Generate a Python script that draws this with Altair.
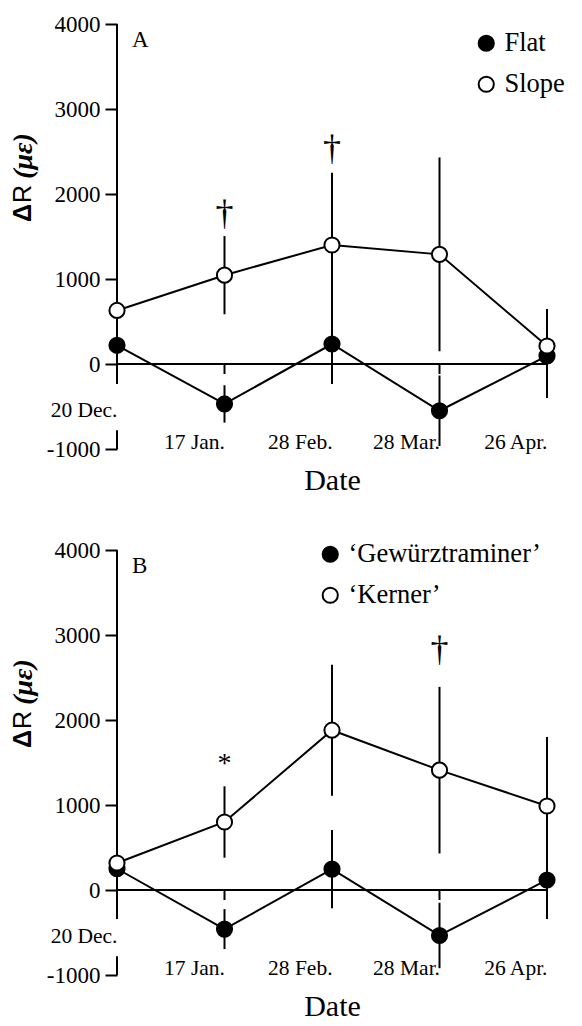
import altair as alt
import pandas as pd

# ---------------- data ----------------
dates = ["20 Dec.", "17 Jan.", "28 Feb.", "28 Mar.", "26 Apr."]

# Panel A
a_series = ["Flat", "Slope"]
a_flat = [220, -470, 235, -550, 95]
a_flat_se = [455, 220, 470, 415, 495]
a_slope = [630, 1045, 1400, 1290, 212]
a_slope_se = [300, 460, 850, 1140, 435]
a_mark_dates = ["17 Jan.", "28 Feb."]
a_mark_y = [1765, 2530]
a_mark_sym = ["\u2020", "\u2020"]

# Panel B
b_series = ["\u2018Gew\u00fcrztraminer\u2019", "\u2018Kerner\u2019"]
b_gew = [250, -460, 245, -535, 118]
b_gew_se = [300, 235, 460, 385, 460]
b_ker = [318, 800, 1880, 1410, 988]
b_ker_se = [660, 420, 770, 980, 812]
b_mark_dates = ["17 Jan.", "28 Mar."]
b_mark_y = [1480, 2824]
b_mark_sym = ["*", "\u2020"]

y_ticks = [-1000, 0, 1000, 2000, 3000, 4000]
y_domain = [-1000, 4000]
# y-axis line drawn in two pieces (broken where the first date label sits)
yaxis_lo = [0, -1000]
yaxis_hi = [4000, -780]

# ---------------- style ----------------
W, H = 430, 425
SERIF = "Liberation Serif"
SANS = "Liberation Sans"
UNITS_PER_PX = (y_domain[1] - y_domain[0]) / H
TICK_LEN = 10 * UNITS_PER_PX


def panel(letter, series, vals, ses, mdates, my, msym, legend_x, legend_y):
    rows = []
    for s, v, e in zip(series, vals, ses):
        for d, m, se in zip(dates, v, e):
            rows.append({"date": d, "series": s, "mean": m, "lo": m - se, "hi": m + se})
    df = pd.DataFrame(rows)

    xscale = alt.Scale(type="point", padding=0, domain=dates)
    xaxis = alt.Axis(
        title="Date", titleFont=SERIF, titleFontSize=30, titleFontWeight="normal",
        titleColor="black", titlePadding=13,
        labelFont=SERIF, labelFontSize=21.5, labelColor="black", labelAngle=0,
        labelOverlap=False, labelBaseline="alphabetic",
        labelPadding={"condition": {"test": "datum.value === '20 Dec.'", "value": -33}, "value": -1},
        ticks=False, domain=False, grid=False,
    )
    yscale = alt.Scale(domain=y_domain, nice=False, zero=False)
    yaxis = alt.Axis(
        title=None, values=y_ticks, labelExpr="'' + datum.value",
        labelFont=SERIF, labelFontSize=23, labelColor="black", labelPadding=5,
        tickSize=12, tickWidth=2, tickColor="black", domain=False, grid=False,
    )
    X = alt.X("date:N", scale=xscale, axis=xaxis)
    Xp = alt.X("date:N", scale=xscale)

    base = alt.Chart(df)
    lines = base.mark_line(color="black", strokeWidth=2).encode(
        x=X, y=alt.Y("mean:Q", scale=yscale, axis=yaxis), detail="series:N"
    )
    bars = base.mark_rule(color="black", strokeWidth=2).encode(x=Xp, y="lo:Q", y2="hi:Q")
    pts = base.mark_circle(size=230, stroke="black", strokeWidth=2, opacity=1).encode(
        x=Xp,
        y="mean:Q",
        fill=alt.Fill(
            "series:N",
            scale=alt.Scale(domain=series, range=["black", "white"]),
            legend=alt.Legend(
                title=None, orient="none", legendX=legend_x, legendY=legend_y,
                labelFont=SERIF, labelFontSize=26.5, labelColor="black", labelLimit=400,
                symbolType="circle", symbolSize=230, symbolStrokeWidth=2,
                symbolStrokeColor="black", symbolOpacity=1, rowPadding=14,
                labelOffset=5,
            ),
        ),
    )
    # y-axis line (broken)
    ax = alt.Chart(pd.DataFrame({"date": [dates[0]] * 2, "lo": yaxis_lo, "hi": yaxis_hi})).mark_rule(
        color="black", strokeWidth=2
    ).encode(x=Xp, y="lo:Q", y2="hi:Q")
    # zero line with ticks at each date
    zero = alt.Chart(pd.DataFrame({"a": [dates[0]], "b": [dates[-1]], "y": [0]})).mark_rule(
        color="black", strokeWidth=2
    ).encode(x=alt.X("a:N", scale=xscale), x2="b", y="y:Q")
    ticks = alt.Chart(pd.DataFrame({"date": dates, "y": [0] * len(dates), "y2": [-TICK_LEN] * len(dates)})).mark_rule(
        color="black", strokeWidth=2
    ).encode(x=Xp, y="y:Q", y2="y2:Q")

    ann = alt.Chart(pd.DataFrame({"date": mdates, "y": my, "s": msym})).mark_text(
        font=SERIF, baseline="middle", color="black"
    ).encode(
        x=Xp, y="y:Q", text="s:N",
        size=alt.condition(alt.datum.s == "*", alt.value(28), alt.value(36)),
    )

    one = pd.DataFrame({"k": [0]})
    lab = alt.Chart(one).mark_text(
        text=letter, font=SERIF, fontSize=23, align="left", baseline="middle", color="black"
    ).encode(x=alt.value(15), y=alt.value(16))
    t1 = alt.Chart(one).mark_text(
        text="\u0394", font=SANS, fontSize=25, fontWeight="bold", angle=270,
        align="center", baseline="middle", color="black"
    ).encode(x=alt.value(-94), y=alt.value(189))
    t2 = alt.Chart(one).mark_text(
        text="R", font=SANS, fontSize=25, angle=270,
        align="center", baseline="middle", color="black"
    ).encode(x=alt.value(-94), y=alt.value(170))
    t3 = alt.Chart(one).mark_text(
        text="(\u03bc\u03b5)", font=SERIF, fontSize=28, fontWeight="bold", fontStyle="italic",
        angle=270, align="center", baseline="middle", color="black"
    ).encode(x=alt.value(-93), y=alt.value(132))

    return alt.layer(ax, zero, ticks, lines, bars, pts, ann, lab, t1, t2, t3).properties(width=W, height=H)


pa = panel("A", a_series, [a_flat, a_slope], [a_flat_se, a_slope_se],
           a_mark_dates, a_mark_y, a_mark_sym, 356, 6)
pb = panel("B", b_series, [b_gew, b_ker], [b_gew_se, b_ker_se],
           b_mark_dates, b_mark_y, b_mark_sym, 200, -9)

chart = (
    alt.vconcat(pa, pb, spacing=43)
    .resolve_scale(fill="independent")
    .resolve_legend(fill="independent")
    .properties(padding={"left": 2, "top": 5, "right": 0, "bottom": 0}, background="white")
    .configure_view(stroke=None)
)

chart.save("out.html", embed_options={"renderer": "svg", "actions": False})
